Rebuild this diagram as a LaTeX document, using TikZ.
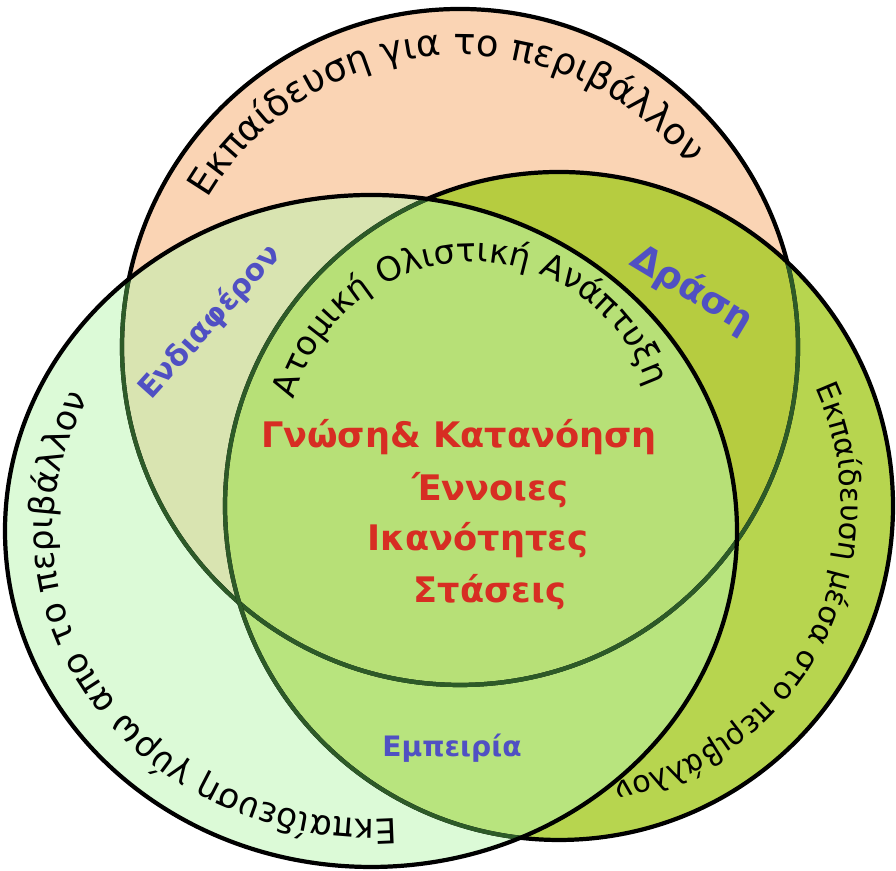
\documentclass[tikz,border=0pt]{standalone}
\usepackage{fontspec}
\setmainfont{DejaVu Sans}
\usetikzlibrary{decorations.text}

\definecolor{peach}{RGB}{250,212,180}
\definecolor{olive}{RGB}{165,202,35}
\definecolor{mint}{RGB}{185,245,175}
\definecolor{darkline}{RGB}{45,90,40}
\definecolor{labelblue}{RGB}{80,80,195}
\definecolor{labelred}{RGB}{215,45,35}

\tikzset{
	rim/.style={line width=1.2pt},
	bluelabel/.style={text=labelblue, font=\fontsize{8.5}{10}\selectfont\bfseries, inner sep=0pt},
	redlabel/.style={text=labelred, font=\fontsize{10}{12}\selectfont\bfseries, inner sep=0pt},
	curved/.style 2 args={decorate, decoration={text along path, text align=center,
		text={|\fontsize{#1}{12}\selectfont|#2}}}
}

\begin{document}
\begin{tikzpicture}[x=0.01cm,y=0.01cm]
	\useasboundingbox (0,0) rectangle (896,871);
	\coordinate (ctop) at (460,524);
	\coordinate (cleft) at (371,340);
	\coordinate (cright) at (559,365);
	\coordinate (cinner) at (473,424);
	% fills
	\fill[peach] (ctop) circle [radius=338];
	\fill[olive, fill opacity=0.8] (cright) circle [radius=334];
	\fill[mint, fill opacity=0.5] (cleft) ellipse [x radius=366, y radius=336];
	% outlines, darker where a circle lies on top
	\draw[rim] (ctop) circle [radius=338];
	\begin{scope}
		\clip (cright) circle [radius=334];
		\draw[rim, darkline] (ctop) circle [radius=338];
	\end{scope}
	\begin{scope}
		\clip (cleft) ellipse [x radius=366, y radius=336];
		\draw[rim, darkline] (ctop) circle [radius=338];
	\end{scope}
	\draw[rim] (cright) circle [radius=334];
	\begin{scope}
		\clip (cleft) ellipse [x radius=366, y radius=336];
		\draw[rim, darkline] (cright) circle [radius=334];
	\end{scope}
	\draw[rim] (cleft) ellipse [x radius=366, y radius=336];
	% curved texts
	\path[curved={10.5}{Εκπαίδευση για το περιβάλλον}]
		([shift={(176:292)}]ctop) arc [start angle=176, end angle=12, radius=292];
	\path[curved={9.8}{Εκπαίδευση γύρω απο το περιβάλλον}]
		([shift={(296:318 and 288)}]cleft) arc [start angle=296, end angle=130, x radius=318, y radius=288];
	\path[curved={8.6}{Εκπαίδευση μέσα στο περιβάλλον}]
		([shift={(54:282)}]cright) arc [start angle=54, end angle=-108, radius=282];
	\path[curved={9.5}{Ατομική Ολιστική Ανάπτυξη}]
		([shift={(174:185)}]cinner) arc [start angle=174, end angle=10, radius=185];
	% labels
	\node[bluelabel, rotate=48] (interest) at (210,549) {Ενδιαφέρον};
	\node[bluelabel, rotate=-31, font=\fontsize{10.5}{12}\selectfont\bfseries] (action) at (692,581) {Δράση};
	\node[bluelabel, font=\fontsize{8}{10}\selectfont\bfseries] (experience) at (452,123) {Εμπειρία};
	\node[redlabel] (knowledge) at (459,434) {Γνώση\& Κατανόηση};
	\node[redlabel] (concepts) at (490,381) {Έννοιες};
	\node[redlabel] (skills) at (478,331) {Ικανότητες};
	\node[redlabel] (attitudes) at (490,279) {Στάσεις};
\end{tikzpicture}
\end{document}
